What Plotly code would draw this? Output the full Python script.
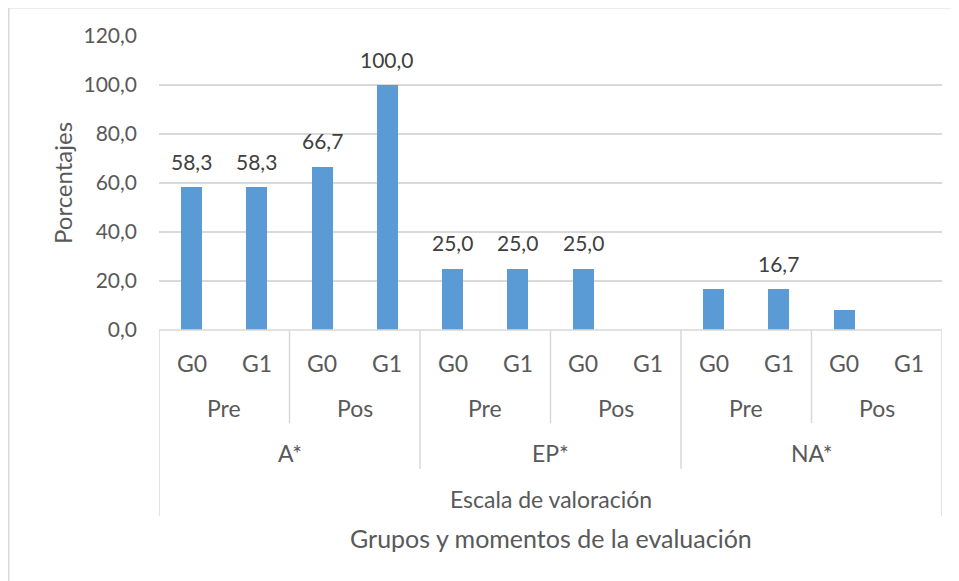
import plotly.graph_objects as go

# ---- data ----
scales = ["A*", "A*", "A*", "A*", "EP*", "EP*", "EP*", "EP*", "NA*", "NA*", "NA*", "NA*"]
moments = ["Pre", "Pre", "Pos", "Pos", "Pre", "Pre", "Pos", "Pos", "Pre", "Pre", "Pos", "Pos"]
groups = ["G0", "G1", "G0", "G1", "G0", "G1", "G0", "G1", "G0", "G1", "G0", "G1"]
values = [58.3, 58.3, 66.7, 100.0, 25.0, 25.0, 25.0, 0.0, 16.7, 16.7, 8.3, 0.0]
show_label = [True, True, True, True, True, True, True, False, False, True, False, False]
y_ticks = [0, 20, 40, 60, 80, 100, 120]
scale_title = "Escala de valoración"
x_title = "Grupos y momentos de la evaluación"
y_title = "Porcentajes"

FONT = "Lato"
GRID = "#d9d9d9"
TICK_COL = "#595959"
LBL_COL = "#404040"

OFF = 8
W, H = 959 - OFF, 581 - OFF
L, R, T, B = 159, 942, 36, 330
PW, PH = R - L, B - T

def py(pix):
    return (B - pix) / PH

def px(pix):
    return (pix - L) / PW

def fmt(v):
    return f"{v:.1f}".replace(".", ",")

n = len(values)
xs = list(range(n))

fig = go.Figure()
fig.add_trace(go.Bar(
    x=xs, y=values, width=0.32,
    marker=dict(color="#5B9BD5", line=dict(width=0)),
    hoverinfo="skip",
))

shapes = []
annotations = []

# data labels
for i, (v, s) in enumerate(zip(values, show_label)):
    if s:
        annotations.append(dict(x=i, y=v, xref="x", yref="y", text=fmt(v),
                                showarrow=False, xanchor="center", yanchor="middle",
                                yshift=26, font=dict(family=FONT, size=21, color=LBL_COL)))

shapes.append(dict(type="line", xref="x", yref="paper", x0=-0.5, x1=n - 0.5,
                   y0=0, y1=0, line=dict(color=GRID, width=1.5)))

def vline(xv, bottom_pix):
    shapes.append(dict(type="line", xref="x", yref="paper", x0=xv, x1=xv,
                       y0=0, y1=py(bottom_pix), line=dict(color=GRID, width=1.5)))

vline(-0.5, 516)
vline(n - 0.5, 516)
for i in range(1, n):
    if scales[i] != scales[i - 1]:
        vline(i - 0.5, 469)
    elif moments[i] != moments[i - 1]:
        vline(i - 0.5, 423)

CAT = dict(family=FONT, size=23, color=TICK_COL)

def label(xv, ypix, text, font=CAT, xref="x", angle=0):
    annotations.append(dict(x=xv, y=py(ypix), xref=xref, yref="paper", text=text,
                            showarrow=False, xanchor="center", yanchor="middle",
                            textangle=angle, font=font))

for i, g in enumerate(groups):
    label(i, 363, g)

def runs(labels, keyfn):
    out = []
    start = 0
    for i in range(1, n + 1):
        if i == n or keyfn(i) != keyfn(start):
            out.append((start, i - 1, labels[start]))
            start = i
    return out

for a, b, lab in runs(moments, lambda i: (scales[i], moments[i])):
    label((a + b) / 2, 408, lab)
for a, b, lab in runs(scales, lambda i: scales[i]):
    label((a + b) / 2, 453, lab)

label((n - 1) / 2, 499, scale_title)
label((n - 1) / 2, 538, x_title, font=dict(family=FONT, size=25, color=TICK_COL))
label(px(62), 183, y_title, font=dict(family=FONT, size=24, color=TICK_COL),
      xref="paper", angle=-90)

shapes.append(dict(type="rect", xref="paper", yref="paper",
                   x0=px(8.75), x1=px(975), y0=py(600), y1=py(7.75),
                   line=dict(color=GRID, width=1.5),
                   fillcolor="rgba(0,0,0,0)", layer="below"))

fig.update_layout(
    width=W, height=H,
    margin=dict(l=L - OFF, r=W - (R - OFF), t=T - OFF, b=H - (B - OFF), pad=0),
    paper_bgcolor="white", plot_bgcolor="white",
    separators=",.",
    showlegend=False,
    bargap=0,
    shapes=shapes,
    annotations=annotations,
    xaxis=dict(range=[-0.5, n - 0.5], showticklabels=False, showgrid=False,
               zeroline=False, showline=False, ticks=""),
    yaxis=dict(range=[0, 120], tickvals=y_ticks, tickformat=".1f",
               showgrid=True, gridcolor=GRID, gridwidth=1.5, zeroline=False,
               showline=False, ticks="", ticklabelstandoff=21,
               tickfont=dict(family=FONT, size=21, color=TICK_COL)),
)

fig.write_html("out.html")
